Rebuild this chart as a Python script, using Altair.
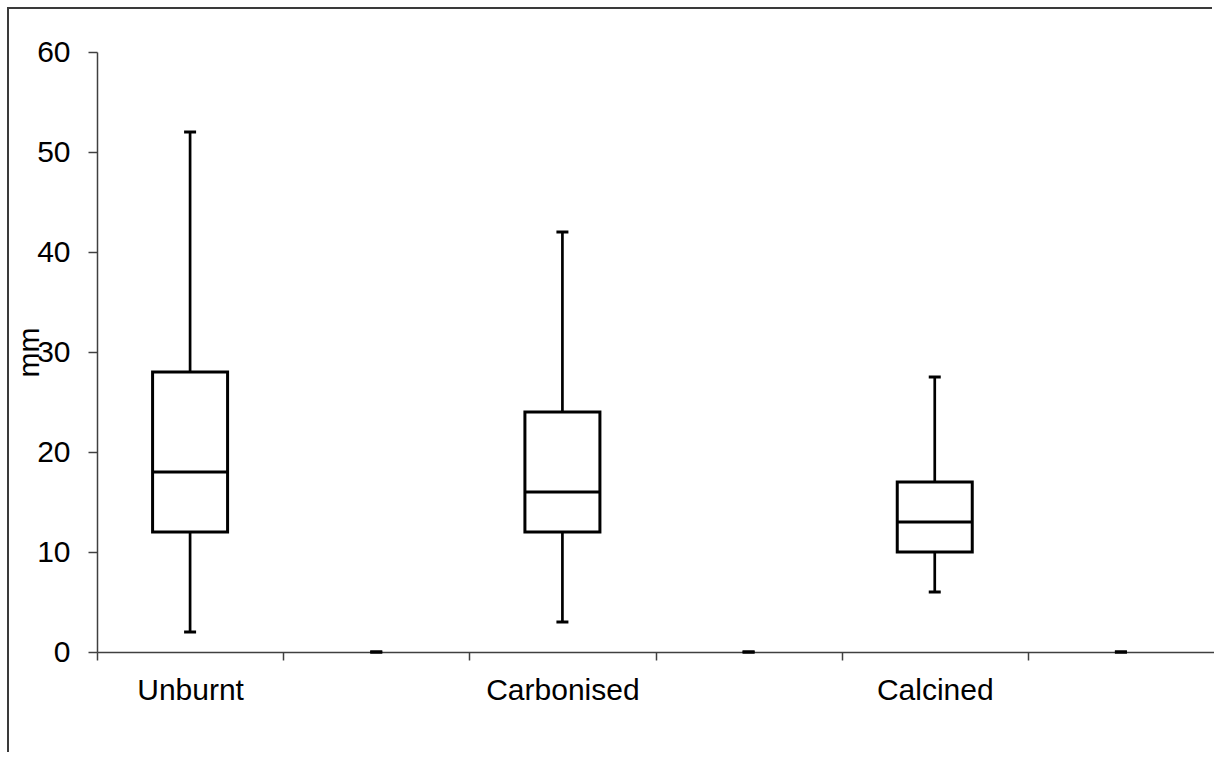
import altair as alt
import pandas as pd

# Fragment length summaries (mm) per burning condition; the gap slots are empty series
groups = ["Unburnt", "gap1", "Carbonised", "gap2", "Calcined", "gap3"]
mins = [2, 0, 3, 0, 6, 0]
q1s = [12, None, 12, None, 10, None]
medians = [18, None, 16, None, 13, None]
q3s = [28, None, 24, None, 17, None]
maxs = [52, 0, 42, 0, 27.5, 0]

df = pd.DataFrame({
    "group": groups,
    "lo": mins,
    "q1": q1s,
    "mid": medians,
    "q3": q3s,
    "hi": maxs,
})

FONT = "Liberation Sans"
FS = 30
AXIS_GREY = "#404040"
PLOT_W = 1117
HALF_BAND = PLOT_W / len(groups) / 2

x_enc = alt.X(
    "group:N",
    sort=groups,
    scale=alt.Scale(domain=groups, paddingInner=0, paddingOuter=0),
    axis=alt.Axis(
        title=None,
        labelAngle=0,
        labelExpr="indexof(datum.value, 'gap') == 0 ? '' : datum.label",
        # ticks sit on the category boundaries, labels stay centred
        tickOffset=-HALF_BAND,
        labelOffset=HALF_BAND,
        tickSize=8,
        labelPadding=15,
        labelFont=FONT,
        labelFontSize=FS,
        labelColor="black",
        domainColor=AXIS_GREY,
        tickColor=AXIS_GREY,
        domainWidth=1.5,
        tickWidth=1.5,
        grid=False,
    ),
)

y_scale = alt.Scale(domain=[0, 60], nice=False, zero=True)
y_axis = alt.Axis(
    title="mm",
    values=[0, 10, 20, 30, 40, 50, 60],
    tickSize=9,
    labelPadding=18,
    labelFont=FONT,
    labelFontSize=FS,
    labelColor="black",
    titleFont=FONT,
    titleFontSize=FS,
    titleFontWeight="normal",
    titleColor="black",
    titlePadding=-8,
    domainColor=AXIS_GREY,
    tickColor=AXIS_GREY,
    domainWidth=1.5,
    tickWidth=1.5,
    grid=False,
)

base = alt.Chart(df)
boxes_only = base.transform_filter("isValid(datum.q1)")

lower_whisker = boxes_only.mark_rule(color="black", strokeWidth=2.7).encode(
    x=x_enc,
    y=alt.Y("lo:Q", scale=y_scale, axis=y_axis),
    y2="q1:Q",
)
upper_whisker = boxes_only.mark_rule(color="black", strokeWidth=2.7).encode(
    x=x_enc, y=alt.Y("q3:Q", scale=y_scale), y2="hi:Q"
)
box = boxes_only.mark_bar(
    size=75, fill="white", stroke="black", strokeWidth=3
).encode(x=x_enc, y=alt.Y("q1:Q", scale=y_scale), y2="q3:Q")
median = boxes_only.mark_tick(
    size=75, thickness=3, color="black", opacity=1
).encode(x=x_enc, y=alt.Y("mid:Q", scale=y_scale))
cap_low = base.mark_tick(size=12, thickness=3, color="black", opacity=1).encode(
    x=x_enc, y=alt.Y("lo:Q", scale=y_scale)
)
cap_high = base.mark_tick(size=12, thickness=3, color="black", opacity=1).encode(
    x=x_enc, y=alt.Y("hi:Q", scale=y_scale)
)

# outer chart frame (left and top edges)
frame_left = alt.Chart(df).mark_rule(color="#3a3a3a", strokeWidth=2).encode(
    x=alt.value(-89), y=alt.value(-44), y2=alt.value(700)
)
frame_top = alt.Chart(df).mark_rule(color="#3a3a3a", strokeWidth=2).encode(
    x=alt.value(-90), x2=alt.value(PLOT_W - 2), y=alt.value(-44)
)

chart = alt.layer(
    lower_whisker, upper_whisker, box, median, cap_low, cap_high,
    frame_left, frame_top,
).properties(
    width=PLOT_W,
    height=600,
    padding={"left": 97, "top": 52, "right": 0, "bottom": 108},
    autosize=alt.AutoSizeParams(type="none"),
    background="white",
).configure_view(strokeOpacity=0)

chart.save("out.html", embed_options={"renderer": "svg", "actions": False})
